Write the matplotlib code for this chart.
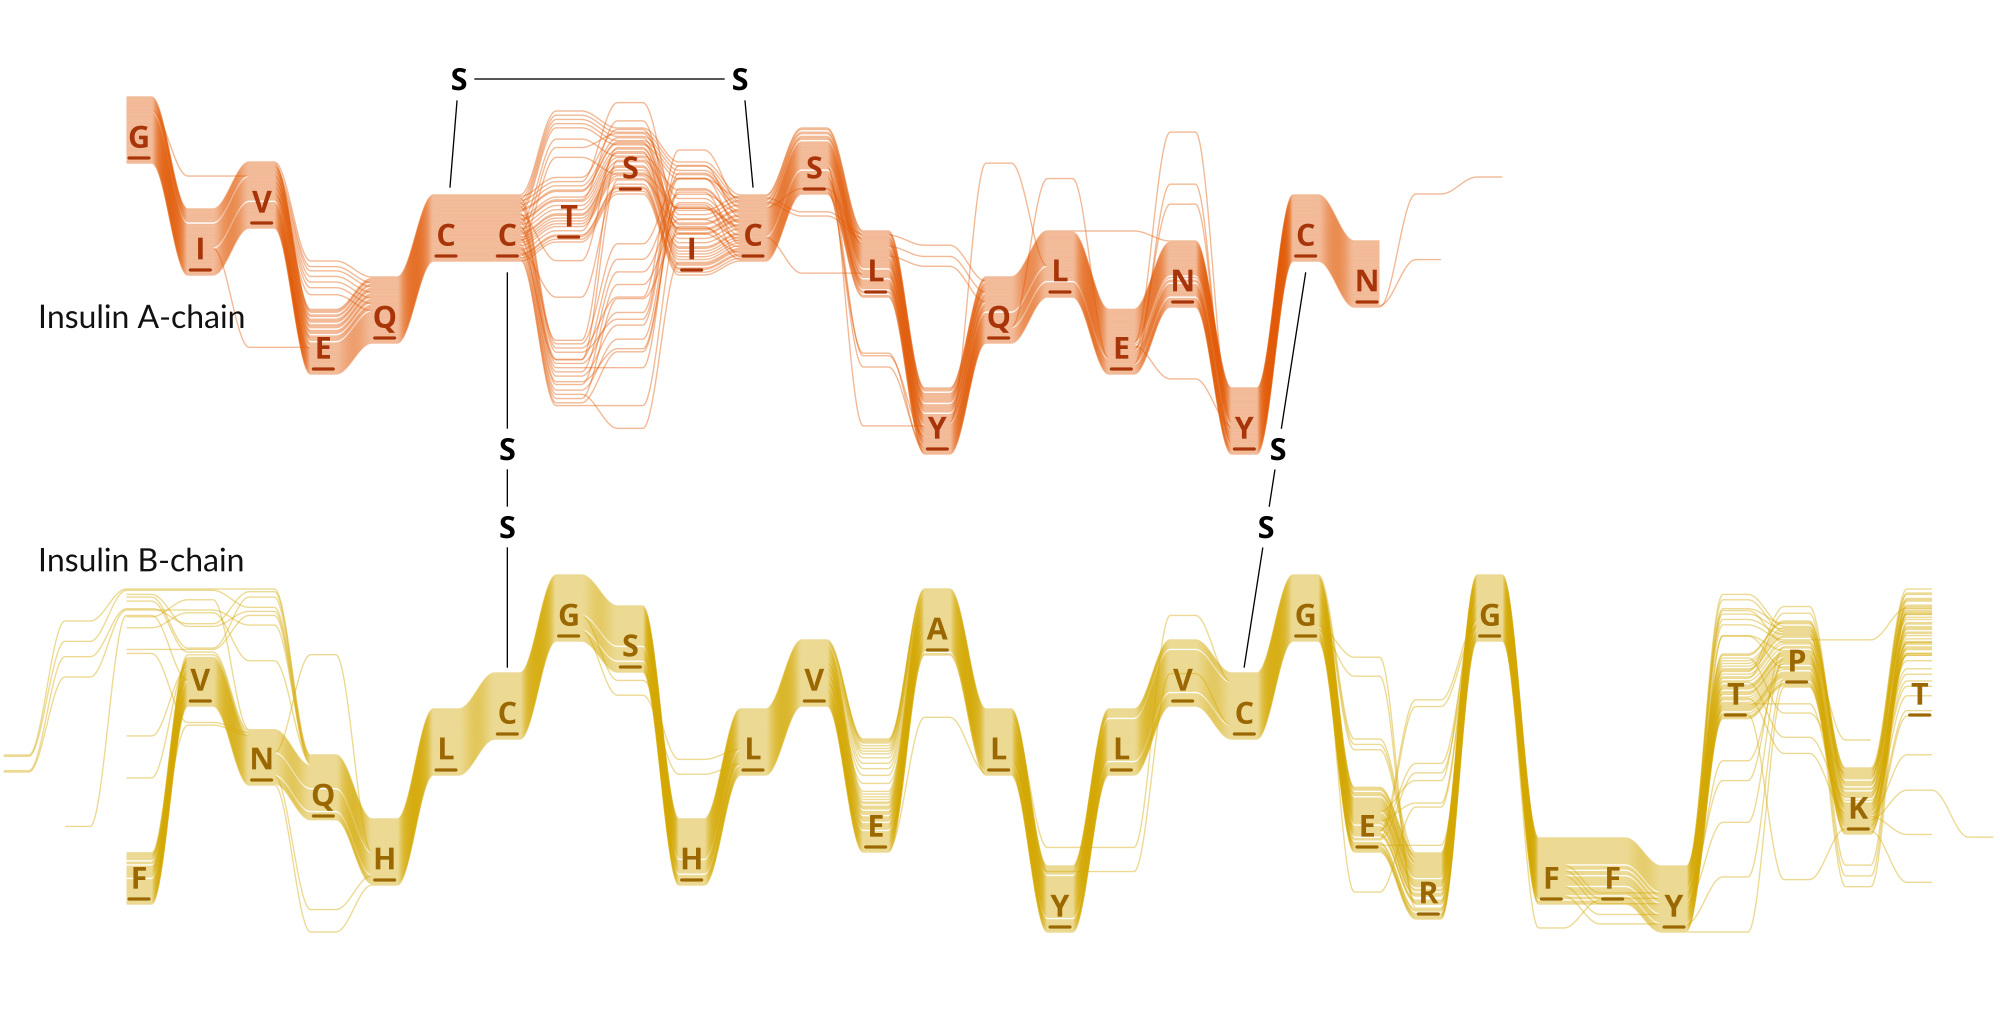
"""
Sequence-bundle view of insulin A- and B-chain alignments with disulfide bridges.
"""
import numpy as np
import matplotlib
matplotlib.use("Agg")
import matplotlib.pyplot as plt
from matplotlib.collections import LineCollection

# ── Data ─────────────────────────────────────────────────────────────────────
A_CONSENSUS = "GIVEQCCTSICSLYQLENYCN"
B_CONSENSUS = "FVNQHLCGSHLVEALYLVCGERGFFYTPKT"

N_A = 48   # aligned A-chain sequences
N_B = 50   # aligned B-chain sequences

# aligned columns (A: 2 trailing extension columns, B: 2 leading + 1 trailing)
A_BASE = "GIVEQCCTSICSLYQLENYCN--"
B_BASE = "--FVNQHLCGSHLVEALYLVCGERGFFYTPKA-"
A_FIRST, B_FIRST = 0, 2          # column of residue 1 in the aligned strings

# substitutions: aligned column -> {residue: [sequence indices]}
A_VARIANTS = {
    1: {"V": [10]},
    2: {"V": [10], "E": [28]},
    3: {"D": [0, 4, 7, 11, 15, 19, 24]},
    7: {"A": [0, 3, 6, 9, 12, 20, 26, 33],
        "H": [2, 5, 8, 13, 16, 19, 22, 25, 29, 31, 35, 38, 41, 44, 46],
        "N": [14, 40], "E": [23, 37]},
    8: {"G": [4, 17, 26, 39], "N": [2, 13, 22, 31, 41], "K": [5, 16, 25, 35, 44],
        "E": [8, 29], "H": [19, 46], "R": [38]},
    9: {"T": [2, 13, 22, 31, 41, 23, 37], "P": [5, 16, 25, 35, 44],
        "V": [8, 29, 19, 46, 0, 3, 6, 9, 12, 20, 26, 33]},
    11: {"I": [2, 5], "T": [9], "L": [30]},
    12: {"E": [34, 42], "K": [45], "Y": [27]},
    13: {"N": [3, 11, 18]},
    14: {"S": [25]},
    15: {"S": [36]},
    16: {"L": [0]},
    17: {"G": [25], "S": [40], "V": [30], "H": [27]},
    21: {"S": [47], "C": [46]},
    22: {"A": [47]},
}

B_VARIANTS = {
    0: {"Q": [0, 1], "K": [2, 3]},
    1: {"P": [0], "V": [1], "T": [2], "C": [3], "E": [30]},
    2: {"A": [0, 1, 4, 6, 9], "S": [2, 3, 8], "P": [5], "V": [7, 10],
        "L": [20], "Q": [17], "G": [30]},
    3: {"A": [0, 1, 8], "P": [2, 4], "S": [3, 5], "L": [10, 12]},
    4: {"A": [0, 2, 6], "S": [1, 4, 7], "P": [3], "T": [5]},
    5: {"P": [25], "R": [42], "Y": [49]},
    10: {"V": [30, 41]},
    11: {"N": [30, 41]},
    14: {"D": [0, 1, 2, 3, 5, 7, 9, 11, 14, 18, 22, 27, 33]},
    15: {"T": [47]},
    17: {"F": [7], "H": [39]},
    18: {"F": [7], "H": [39]},
    19: {"S": [7], "P": [39]},
    22: {"D": [0, 4, 8], "S": [38], "P": [41], "R": [29]},
    23: {"T": [34, 39], "N": [33, 40], "Q": [19], "K": [26, 29], "E": [44]},
    25: {"Y": [46]},
    26: {"Y": [20, 24, 28, 36, 43]},
    28: {"S": [2, 6, 10, 14, 22], "A": [4, 8, 16, 35], "N": [31], "Q": [19],
         "E": [27], "H": [43], "Y": [49]},
    29: {"A": [13, 18], "L": [3, 21, 33], "T": [37], "H": [45]},
    30: {"R": [9, 17, 25], "P": [14], "L": [23]},
    31: {"T": [1, 5, 11, 15, 20, 24, 31, 42, 46], "S": [2, 6, 10, 22, 27, 35],
         "L": [34], "D": [38], "E": [36], "H": [47], "-": [23]},
    32: {"E": [38]},
}

# disulfide bridges (residue numbers, 1-based)
SS_INTRA_A = (6, 11)
SS_INTER = [(7, 7), (20, 19)]   # (A residue, B residue)

# ── Layout (pixel space, y downwards) ────────────────────────────────────────
X0, DX = 139, 61.4
HW = 12.5
BAND_TOP, BAND_BOT = -61, 5
A_Y, B_Y = 0, 478
LEVEL = {"G": 158, "A": 172, "S": 189, "P": 204, "V": 223, "T": 237, "C": 256,
         "I": 270, "L": 292, "N": 302, "D": 322, "Q": 338, "K": 351, "E": 369,
         "H": 402, "F": 421, "R": 436, "Y": 449}

A_LINE, A_TEXT = "#E25A06", "#A8350A"
B_LINE, B_TEXT = "#D4A800", "#9A6700"
FONT = "Open Sans"
SUPER = 3   # render oversampled, then average down for smooth bundles


def build(base, variants, n):
    seqs = [list(base) for _ in range(n)]
    for col, subs in variants.items():
        for aa, idx in subs.items():
            for j in idx:
                seqs[j][col] = aa
    return seqs


def seq_segments(seq, j, n, y0, first):
    off = BAND_TOP + j * (BAND_BOT - BAND_TOP) / (n - 1)
    t = np.linspace(0, 1, 40)[1:]
    ease = 0.5 - 0.5 * np.cos(np.pi * t)
    segs, xs, ys = [], [], []
    for k, aa in enumerate(seq):
        if aa == "-":
            if len(xs) > 1:
                segs.append(np.column_stack([xs, ys]))
            xs, ys = [], []
            continue
        xc = X0 + (k - first) * DX
        yc = y0 + LEVEL[aa] + off
        if xs:
            xa, ya = xs[-1], ys[-1]
            xs.extend(xa + (xc - HW - xa) * t)
            ys.extend(ya + (yc - ya) * ease)
        else:
            xs.append(xc - HW)
            ys.append(yc)
        xs.append(xc + HW)
        ys.append(yc)
    if len(xs) > 1:
        segs.append(np.column_stack([xs, ys]))
    return segs


def draw_chain(ax, base, variants, n, y0, first, consensus, line_c, text_c):
    seqs = build(base, variants, n)
    segs = []
    for j, s in enumerate(seqs):
        segs.extend(seq_segments(s, j, n, y0, first))
    ax.add_collection(LineCollection(segs, colors=line_c, linewidths=1.0,
                                     alpha=0.42, capstyle="butt", zorder=2))
    for c, aa in enumerate(consensus):
        x = X0 + c * DX
        y = y0 + LEVEL[aa]
        ax.text(x, y - 10.5, aa, ha="center", va="baseline", fontsize=22,
                fontweight="bold", family=FONT, color=text_c, zorder=5)
        ax.plot([x - 10, x + 10], [y, y], color=text_c, lw=2.3,
                solid_capstyle="round", zorder=5)


def s_label(ax, x, y):
    ax.text(x, y + 11, "S", ha="center", va="baseline", fontsize=22,
            fontweight="bold", family=FONT, color="black", zorder=6)


fig = plt.figure(figsize=(20, 10.24), dpi=100 * SUPER)
fig.patch.set_facecolor("white")
ax = fig.add_axes([0, 0, 1, 1])
ax.set_xlim(0, 2000)
ax.set_ylim(1024, 0)
ax.axis("off")

draw_chain(ax, A_BASE, A_VARIANTS, N_A, A_Y, A_FIRST, A_CONSENSUS, A_LINE, A_TEXT)
draw_chain(ax, B_BASE, B_VARIANTS, N_B, B_Y, B_FIRST, B_CONSENSUS, B_LINE, B_TEXT)

# chain labels
lab = dict(fontsize=23, family="Lato", fontweight="normal", color="#111111",
           va="baseline", ha="left")
ax.text(38, 328, "Insulin A-chain", **lab)
ax.text(38, 571, "Insulin B-chain", **lab)

# intra-chain bridge A6–A11
ssk = dict(color="black", lw=0.95, zorder=4)
xa1 = X0 + (SS_INTRA_A[0] - 1) * DX
xa2 = X0 + (SS_INTRA_A[1] - 1) * DX
sy = 79
s1x, s2x = xa1 + 13, xa2 - 13
s_label(ax, s1x, sy)
s_label(ax, s2x, sy)
ax.plot([s1x + 16, s2x - 16], [sy, sy], **ssk)
top_c = A_Y + LEVEL["C"] + BAND_TOP - 8
ax.plot([s1x - 2, xa1 + 4], [sy + 22, top_c], **ssk)
ax.plot([s2x + 5, xa2], [sy + 22, top_c], **ssk)

# inter-chain bridges
for ra, rb in SS_INTER:
    xa = X0 + (ra - 1) * DX
    xb = X0 + (rb - 1) * DX
    ya = A_Y + LEVEL["C"] + BAND_BOT + 12
    yb = B_Y + LEVEL["C"] + BAND_TOP - 6
    px = lambda f: xa + (xb - xa) * f
    py = lambda f: ya + (yb - ya) * f
    fs = [0.0, 0.447, 0.645, 1.0]
    gap = 21 / (yb - ya)
    for f_from, f_to in [(0.0, fs[1] - gap), (fs[1] + gap, fs[2] - gap), (fs[2] + gap, 1.0)]:
        ax.plot([px(f_from), px(f_to)], [py(f_from), py(f_to)], **ssk)
    s_label(ax, px(fs[1]), py(fs[1]))
    s_label(ax, px(fs[2]), py(fs[2]))

# oversampled render -> 2000x1024 by block averaging
fig.canvas.draw()
img = np.asarray(fig.canvas.buffer_rgba())[:, :, :3].astype(float)
h, w = img.shape[0] // SUPER, img.shape[1] // SUPER
img = img[:h * SUPER, :w * SUPER].reshape(h, SUPER, w, SUPER, 3).mean(axis=(1, 3))
plt.imsave("out.png", img.round().astype(np.uint8))
